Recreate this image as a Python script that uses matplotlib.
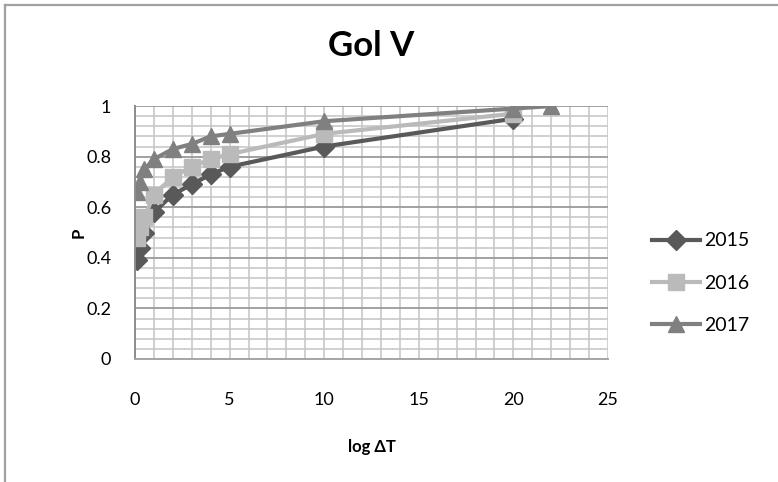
import matplotlib
matplotlib.use("Agg")
import matplotlib.pyplot as plt
from matplotlib.lines import Line2D
from matplotlib.ticker import MultipleLocator

plt.rcParams['font.family'] = ['Lato', 'DejaVu Sans']

x_2015 = [0.1, 0.25, 0.5, 1, 2, 3, 4, 5, 10, 20]
p_2015 = [0.39, 0.44, 0.50, 0.58, 0.65, 0.69, 0.73, 0.76, 0.84, 0.95]

x_2016 = [0.1, 0.25, 0.5, 1, 2, 3, 4, 5, 10, 20]
p_2016 = [0.48, 0.52, 0.56, 0.65, 0.72, 0.76, 0.79, 0.81, 0.89, 0.97]

x_2017 = [0.1, 0.25, 0.5, 1, 2, 3, 4, 5, 10, 20, 22]
p_2017 = [0.66, 0.70, 0.75, 0.79, 0.83, 0.85, 0.88, 0.89, 0.94, 0.99, 1.0]

fig = plt.figure(figsize=(7.78, 4.82), dpi=100)
ax = fig.add_axes([0.1735, 0.2552, 0.608, 0.5248])

ax.set_xlim(0, 25)
ax.set_ylim(0, 1)
ax.xaxis.set_major_locator(MultipleLocator(5))
ax.xaxis.set_minor_locator(MultipleLocator(1))
ax.yaxis.set_major_locator(MultipleLocator(0.2))
ax.yaxis.set_minor_locator(MultipleLocator(0.04))
ax.set_yticks([0, 0.2, 0.4, 0.6, 0.8, 1.0])
ax.set_yticklabels(['0', '0.2', '0.4', '0.6', '0.8', '1'])

ax.grid(which='minor', color='#c8c8c8', lw=1.2)
ax.grid(which='major', axis='x', color='#c8c8c8', lw=1.2)
ax.grid(which='major', axis='y', color='#9a9a9a', lw=1.3)
ax.set_axisbelow(True)

for s in ['top', 'right']:
    ax.spines[s].set_visible(False)
ax.spines['left'].set_color('#8c8c8c')
ax.spines['left'].set_linewidth(1.4)
ax.spines['bottom'].set_color('#a6a6a6')
ax.spines['bottom'].set_linewidth(1.4)

ax.tick_params(which='both', length=0, labelsize=13)
ax.tick_params(axis='x', pad=24)
ax.tick_params(axis='y', pad=17)

ax.plot(x_2015, p_2015, color='#595959', lw=3, marker='D', ms=10, label='2015')
ax.plot(x_2016, p_2016, color='#bababa', lw=3, marker='s', ms=11.5, label='2016')
ax.plot(x_2017, p_2017, color='#808080', lw=3, marker='^', ms=11.5, label='2017')

ax.set_title('Gol V', fontsize=25, fontweight='bold', pad=36)
ax.set_xlabel('log ΔT', fontsize=12, fontweight='bold', labelpad=22)
ax.set_ylabel('P', fontsize=12, fontweight='bold', labelpad=0)

leg = ax.legend(loc='center left', bbox_to_anchor=(1.055, 0.30), frameon=False,
                fontsize=14, handlelength=2.5, labelspacing=1.3, handletextpad=0.2)

# outer chart border (cropped: only left and top visible)
fig.add_artist(Line2D([5 / 778, 5 / 778], [0, 1 - 5 / 482], transform=fig.transFigure,
                      color='#a0a0a0', lw=1.6))
fig.add_artist(Line2D([5 / 778, 1], [1 - 5 / 482, 1 - 5 / 482], transform=fig.transFigure,
                      color='#a0a0a0', lw=1.6))

fig.savefig('out.png', dpi=100)
